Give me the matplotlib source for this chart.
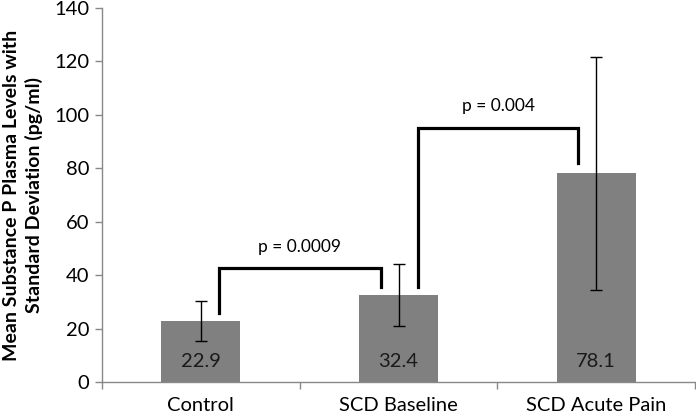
import matplotlib
matplotlib.use("Agg")
import matplotlib.pyplot as plt
import numpy as np

plt.rcParams['font.family'] = ['Lato', 'DejaVu Sans']

categories = ['Control', 'SCD Baseline', 'SCD Acute Pain']
means = [22.9, 32.4, 78.1]
sd = [7.6, 11.6, 43.5]
value_labels = ['22.9', '32.4', '78.1']

# bracket (left x, right x, left foot, top, right foot) in data units, and p text
brackets = [
    (0.09, 0.91, 25.9, 42.6, 35.7, 'p = 0.0009', 50.6),
    (1.10, 1.91, 35.7, 95.2, 81.8, 'p = 0.004', 103.4),
]

AXIS = '#888888'
BAR = '#808080'

fig = plt.figure(figsize=(6.96, 4.16), dpi=100)
ax = fig.add_axes([0.1466, 0.0817, 0.852, 0.8991])

x = np.arange(len(categories))
ax.bar(x, means, width=0.4, color=BAR, zorder=2)
ax.errorbar(x, means, yerr=sd, fmt='none', ecolor='black', elinewidth=1.0,
            capsize=4, capthick=1.0, zorder=3)

for xi, lab in zip(x, value_labels):
    ax.text(xi, 7.6, lab, ha='center', va='center', fontsize=14.5, color='#1a1a1a', zorder=4)

for x0, x1, y0, ytop, y1, txt, ty in brackets:
    ax.plot([x0, x0, x1, x1], [y0, ytop, ytop, y1], color='black', lw=2.3,
            solid_joinstyle='miter', zorder=4)
    ax.text((x0 + x1) / 2, ty, txt, ha='center', va='center', fontsize=12.5)

ax.set_xlim(-0.5, 2.5)
ax.set_ylim(0, 140)
ax.set_yticks(np.arange(0, 141, 20))
ax.set_xticks(x)
ax.set_xticklabels(categories)
ax.set_xticks([-0.5, 0.5, 1.5, 2.5], minor=True)
ax.tick_params(axis='x', which='major', length=0, pad=11, labelsize=14.5)
ax.tick_params(axis='x', which='minor', length=5, color=AXIS, width=1)
ax.tick_params(axis='y', length=5, color=AXIS, width=1, labelsize=14.5, pad=4)

for s in ['top', 'right']:
    ax.spines[s].set_visible(False)
for s in ['left', 'bottom']:
    ax.spines[s].set_color(AXIS)
    ax.spines[s].set_linewidth(1)

ax.set_ylabel('Mean Substance P Plasma Levels with\nStandard Deviation (pg/ml)',
              fontsize=14, fontweight='bold', labelpad=8, linespacing=1.35)

fig.savefig('out.png', dpi=100)
